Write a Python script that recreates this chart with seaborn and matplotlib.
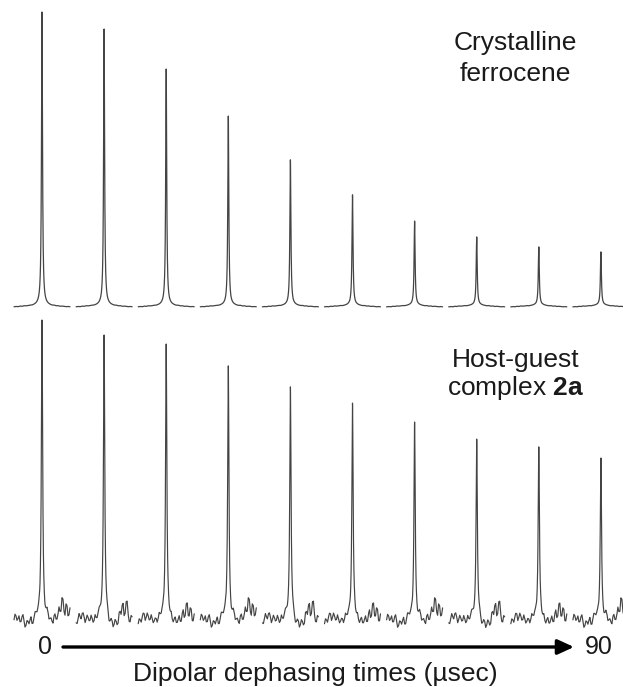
import numpy as np
import pandas as pd
import matplotlib
matplotlib.use("Agg")
import matplotlib.pyplot as plt
import seaborn as sns

# ---------------- data ----------------
delays_us = [0, 10, 20, 30, 40, 50, 60, 70, 80, 90]
ferrocene_heights = [1.000, 0.942, 0.806, 0.646, 0.497, 0.378, 0.289, 0.235, 0.201, 0.184]
complex_heights = [1.000, 0.950, 0.920, 0.847, 0.777, 0.723, 0.660, 0.603, 0.577, 0.540]

# baseline profiles (percent of the first peak), sampled every 2 px from -28 to +28
ferrocene_baseline = [-0.3, -0.2, -0.3, -0.1, -0.2, 0.0, -0.1, 0.0, 0.1, 0.0, 0.1, 0.2, 0.3, 0.3, 0.0,
                      0.3, 0.3, 0.2, 0.1, 0.0, 0.1, -0.1, 0.0, -0.2, -0.1, -0.2, -0.3, -0.2, -0.3]
complex_baseline_a = [0.0, 1.3, 0.3, -0.7, 1.0, -0.3, -2.0, -0.7, -0.3, -1.7, 0.0, 1.3, 1.0, 0.0, 0.0,
                      0.0, 0.7, 1.3, -0.3, -1.0, 1.0, 0.0, 1.7, 2.7, 7.3, 2.7, 5.3, 1.3, 4.0]
complex_baseline_b = [-1.0, 0.3, 1.0, 2.0, 1.0, 0.0, 0.7, -0.3, 0.3, -0.7, 0.0, 1.0, 1.7, 0.3, 0.0,
                      0.7, -0.7, -1.7, -1.0, -2.0, -0.7, -1.3, 2.7, 4.7, 1.3, 6.0, 2.0, -0.7, 1.0]
complex_baseline_c = [-1.3, 0.0, 1.0, 2.0, 0.7, 1.3, 0.0, 0.3, -0.7, 0.0, -0.3, 0.7, 1.3, 0.0, 0.0,
                      1.0, 0.0, -1.0, -0.3, -1.3, 0.0, -0.7, 2.0, 0.7, 5.3, 1.3, 4.0, -0.3, 2.0]
complex_baselines = [complex_baseline_a, complex_baseline_b, complex_baseline_c]
# fine-scale wiggles (percent), at the odd pixels -27 .. +27
complex_jitter_a = [1.2, -1.0, 1.5, -0.8, 1.3, -1.4, 0.9, -1.1, 1.6, -0.9, 1.0, -0.6, 0.8, 0.0,
                    0.0, -0.9, 1.1, -1.3, 0.7, -1.5, 1.2, -0.8, 2.0, -2.2, 1.8, -2.5, 1.4, -1.0]
complex_jitter_b = [-0.9, 1.4, -1.2, 0.8, -1.5, 1.1, -0.7, 1.3, -1.0, 1.5, -0.8, 0.9, -0.5, 0.0,
                    0.0, 1.0, -1.2, 0.8, -1.4, 1.1, -0.9, 1.6, -2.0, 2.4, -1.6, 2.2, -1.2, 1.3]
complex_jitter_c = [1.0, -1.3, 0.7, -1.6, 1.2, -0.8, 1.4, -1.0, 0.6, -1.2, 1.3, -0.7, 0.6, 0.0,
                    0.0, -0.7, 1.4, -1.0, 1.2, -0.6, 1.5, -1.3, 1.9, -1.7, 2.3, -1.4, 1.7, -1.2]
complex_jitters = [complex_jitter_a, complex_jitter_b, complex_jitter_c]

# ---------------- style / geometry ----------------
PX_PER_US = 6.21          # horizontal scale: 62.1 px between spectra (10 us)
HALF_PX = 28              # half width of one spectrum window (px)
GAMMA_TOP = 0.6           # Lorentzian half width (px)
GAMMA_BOT = 0.75
LINE_COLOR = "#444444"
TEXT_COLOR = "#1a1a1a"
FONT = "Liberation Sans"

sns.set_theme(style="white")
plt.rcParams["font.family"] = [FONT, "DejaVu Sans"]
plt.rcParams["mathtext.fontset"] = "custom"
plt.rcParams["mathtext.rm"] = FONT
plt.rcParams["mathtext.bf"] = FONT + ":bold"

grid_px = np.linspace(-HALF_PX, HALF_PX, 561)
prof_px = np.arange(-HALF_PX, HALF_PX + 1, 2)
jit_px = np.arange(-HALF_PX + 1, HALF_PX, 2)


def build(heights, profiles, jitters, gamma):
    frames = []
    for i, (d, h) in enumerate(zip(delays_us, heights)):
        prof = np.asarray(profiles[i % len(profiles)], float)
        if jitters is not None:
            jit = np.asarray(jitters[i % len(jitters)], float)
            px = np.concatenate([prof_px, jit_px])
            val = np.concatenate([prof, np.interp(jit_px, prof_px, prof) + jit])
            order = np.argsort(px)
            px, val = px[order], val[order]
        else:
            px, val = prof_px, prof
        base = np.interp(grid_px, px, val) / 100.0
        y = h * gamma ** 2 / (grid_px ** 2 + gamma ** 2) + base
        frames.append(pd.DataFrame({"delay": d, "x": d + grid_px / PX_PER_US, "y": y}))
    return pd.concat(frames, ignore_index=True)


df_top = build(ferrocene_heights, [ferrocene_baseline], None, GAMMA_TOP)
df_bot = build(complex_heights, complex_baselines, complex_jitters, GAMMA_BOT)

W, H = 623, 687
fig = plt.figure(figsize=(W / 100, H / 100), dpi=100)
xlim = (-42 / PX_PER_US, (W - 42) / PX_PER_US)

# top panel: baseline at y=306 px, unit height = 294 px
ax_top = fig.add_axes([0, 0, 1, 1])
ax_top.patch.set_alpha(0)
sns.lineplot(data=df_top, x="x", y="y", units="delay", estimator=None, sort=False,
             color=LINE_COLOR, lw=0.9, ax=ax_top)
ax_top.set_xlim(*xlim)
ax_top.set_ylim((306 - H) / 294, 306 / 294)
ax_top.set_axis_off()

# bottom panel: baseline at y=620 px, unit height = 300 px
ax_bot = fig.add_axes([0, 0, 1, 1])
ax_bot.patch.set_alpha(0)
sns.lineplot(data=df_bot, x="x", y="y", units="delay", estimator=None, sort=False,
             color=LINE_COLOR, lw=0.85, ax=ax_bot)
ax_bot.set_xlim(*xlim)
ax_bot.set_ylim((620 - H) / 300, 620 / 300)
ax_bot.set_axis_off()


def py(p):
    return (620 - p) / 300


def fx(p):
    return (p - 42) / PX_PER_US


# labels
fs = 19
ax_bot.text(fx(515), py(50), "Crystalline", ha="center", va="baseline", fontsize=fs, color=TEXT_COLOR)
ax_bot.text(fx(515), py(81), "ferrocene", ha="center", va="baseline", fontsize=fs, color=TEXT_COLOR)
ax_bot.text(fx(516), py(367), "Host-guest", ha="center", va="baseline", fontsize=fs, color=TEXT_COLOR)
ax_bot.text(fx(516), py(395), r"complex $\mathbf{2a}$", ha="center", va="baseline", fontsize=fs,
            color=TEXT_COLOR)

# arrow + axis annotation
ax_bot.annotate("", xy=(fx(574), py(647)), xytext=(fx(63), py(647)),
                arrowprops=dict(arrowstyle="-|>,head_length=0.7,head_width=0.32",
                                lw=2.4, color="black", mutation_scale=14,
                                shrinkA=0, shrinkB=0))
ax_bot.text(fx(45), py(647), "0", ha="center", va="center", fontsize=18, color=TEXT_COLOR)
ax_bot.text(fx(599), py(647), "90", ha="center", va="center", fontsize=18, color=TEXT_COLOR)
ax_bot.text(fx(315), py(681), "Dipolar dephasing times (\u00b5sec)", ha="center", va="baseline",
            fontsize=fs, color=TEXT_COLOR)

fig.savefig("out.png", dpi=100)
